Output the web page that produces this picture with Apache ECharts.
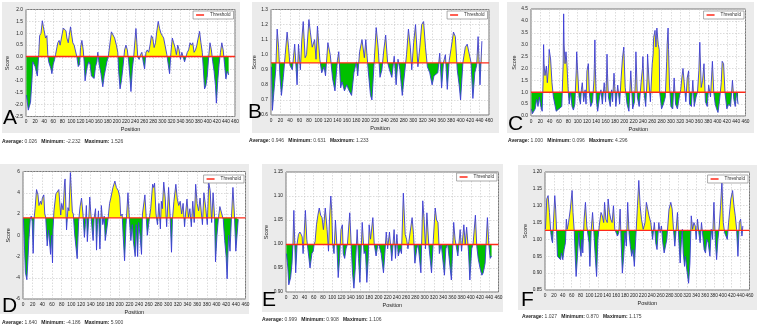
<!DOCTYPE html>
<html>
<head>
<meta charset="utf-8">
<script src="https://cdn.jsdelivr.net/npm/echarts@6/dist/echarts.min.js"></script>
<style>
html,body{margin:0;padding:0;background:#fff}
#chart{width:760px;height:333px}
</style>
</head>
<body>
<div id="chart"></div>
<script>
// residue position / score pairs
var scoresA = [[1,-1.6],[5,-2.232],[10,-1.9],[13,-1.0],[15,-0.2],[20,-0.4],[25,-0.8],[28,0.1],[30,0.9],[33,1.0],[36,1.526],[38,1.3],[40,1.1],[43,0.8],[46,0.9],[48,0.1],[50,-0.2],[55,-0.5],[57,-0.7],[60,-0.3],[63,-0.1],[65,0.1],[70,0.6],[73,0.7],[75,0.5],[78,0.8],[82,1.22],[85,1.2],[88,1.1],[90,0.8],[93,0.6],[95,0.9],[98,1.27],[100,1.0],[103,0.6],[106,0.5],[110,0.5],[112,0.0],[115,-0.4],[118,-0.3],[120,0.4],[123,0.7],[126,0.3],[128,-0.2],[130,-1.0],[133,-0.6],[135,-0.4],[138,-0.2],[141,-0.3],[144,-0.8],[147,-0.85],[150,-0.9],[153,-0.4],[156,-0.2],[158,0.2],[161,-0.3],[165,-0.7],[169,-1.25],[172,-0.8],[175,-0.5],[178,-0.2],[181,0.0],[185,0.6],[188,1.06],[192,1.0],[195,0.8],[199,0.5],[202,0.2],[204,-0.6],[207,-1.34],[210,-1.0],[213,-0.5],[217,0.3],[220,0.5],[223,0.3],[226,-0.2],[229,-0.9],[231,-1.45],[234,-0.5],[237,0.0],[239,0.5],[242,1.2],[244,0.6],[246,0.0],[249,-0.1],[252,0.1],[255,0.2],[258,-0.2],[261,-0.5],[264,0.2],[267,0.3],[270,0.2],[273,0.5],[276,0.9],[279,0.8],[282,0.4],[285,0.6],[288,1.1],[291,1.5],[294,1.2],[297,1.0],[300,0.9],[303,0.8],[306,0.5],[310,0.1],[313,-0.3],[316,-0.7],[319,0.2],[322,0.8],[325,0.6],[328,0.4],[331,0.1],[334,0.5],[337,0.3],[340,-0.1],[343,0.2],[346,0.0],[349,-0.2],[352,-0.2],[355,0.2],[358,0.3],[361,0.6],[364,0.5],[367,0.6],[370,0.2],[373,0.3],[376,0.5],[379,0.8],[382,1.08],[385,0.6],[388,0.2],[390,-0.4],[393,-1.34],[396,-1.2],[399,-0.8],[402,0.0],[405,0.6],[408,0.3],[411,-0.2],[414,-0.6],[417,-1.2],[419,-1.94],[422,-1.0],[425,-0.3],[428,0.2],[431,0.6],[434,0.3],[437,-0.3],[440,-0.92],[443,-0.6],[446,-0.75]];

var scoresB = [[1,0.92],[3,0.631],[6,0.75],[10,0.9],[13,1.17],[16,1.05],[19,0.85],[22,0.73],[26,0.85],[30,1.0],[34,1.15],[37,1.05],[40,0.93],[45,0.9],[50,1.07],[55,0.8],[58,1.07],[62,0.9],[65,1.1],[68,1.22],[72,0.98],[75,1.0],[80,1.233],[83,1.15],[87,1.05],[92,1.1],[95,0.97],[98,1.19],[103,0.97],[107,0.88],[112,0.92],[115,0.86],[120,1.08],[125,1.0],[130,0.84],[135,0.76],[140,0.96],[143,1.02],[147,0.78],[150,0.82],[155,0.76],[160,0.8],[165,0.76],[170,0.73],[175,0.88],[180,0.95],[183,0.86],[187,1.02],[192,1.1],[197,0.98],[200,1.1],[205,0.9],[210,0.73],[213,0.7],[218,0.97],[222,1.18],[226,1.05],[230,0.85],[234,0.9],[238,1.03],[242,1.13],[246,0.95],[250,0.9],[255,0.85],[260,0.99],[264,0.8],[268,0.97],[272,0.9],[277,0.73],[282,0.88],[286,1.0],[290,1.17],[294,1.05],[297,0.9],[301,1.08],[305,1.2],[310,0.92],[314,1.05],[318,1.2],[322,1.22],[326,1.05],[330,0.92],[335,0.88],[340,0.8],[344,0.86],[348,0.85],[352,0.88],[356,1.01],[360,0.78],[364,0.95],[368,1.0],[372,0.77],[376,0.96],[380,1.04],[385,1.15],[389,1.12],[393,0.9],[397,0.8],[400,0.7],[405,0.95],[410,1.05],[414,1.07],[418,1.06],[422,0.95],[426,0.71],[430,0.88],[434,0.93],[437,1.12],[441,0.8],[445,1.09]];

var scoresC = [[1,0.3],[3,0.096],[6,0.15],[9,0.3],[12,0.7],[15,0.4],[18,0.8],[21,0.4],[24,0.2],[26,1.5],[27,3.0],[28,2.2],[30,1.7],[33,2.1],[35,1.4],[38,2.2],[39,2.8],[42,2.4],[45,1.4],[48,0.8],[51,0.5],[54,0.2],[57,0.25],[60,0.3],[63,0.35],[66,0.4],[68,1.6],[69,2.2],[70,4.296],[71,3.0],[73,2.2],[75,2.7],[77,2.2],[78,1.8],[80,1.0],[82,0.5],[85,1.0],[88,0.4],[91,0.25],[94,0.5],[97,1.9],[98,2.7],[100,1.9],[103,0.8],[106,0.5],[108,1.1],[110,1.4],[113,0.6],[116,1.1],[118,0.5],[120,1.9],[123,2.2],[125,1.0],[128,0.4],[132,0.6],[135,1.5],[136,2.2],[137,3.2],[138,2.0],[140,0.7],[143,0.2],[147,0.8],[150,1.1],[153,0.5],[157,1.4],[160,0.6],[162,1.6],[163,2.6],[164,1.8],[166,0.8],[170,0.4],[173,1.1],[175,0.6],[178,1.8],[182,0.4],[186,1.3],[190,0.5],[193,1.5],[196,2.4],[199,2.9],[202,1.2],[206,0.5],[210,0.2],[214,1.9],[218,0.3],[222,0.6],[224,1.6],[225,2.7],[227,1.5],[228,0.8],[232,0.4],[236,1.4],[239,2.0],[240,2.5],[243,0.9],[246,0.4],[249,1.6],[250,2.6],[253,1.5],[256,0.6],[260,2.2],[262,2.6],[263,3.3],[265,3.5],[266,3.6],[267,3.2],[268,2.9],[269,3.4],[270,3.7],[272,3.2],[273,3.0],[275,2.8],[276,1.0],[280,0.3],[284,0.5],[288,0.8],[291,2.3],[292,3.0],[294,3.7],[295,2.8],[297,1.3],[300,0.4],[304,0.3],[307,1.6],[310,0.5],[314,0.3],[318,0.8],[321,1.1],[324,1.7],[326,2.0],[329,1.3],[332,0.6],[335,1.6],[338,1.9],[340,0.5],[344,0.4],[347,1.5],[350,0.4],[354,0.8],[357,1.0],[360,1.9],[362,3.1],[365,1.2],[368,1.5],[371,2.2],[374,0.6],[378,0.4],[381,1.3],[385,0.8],[389,2.3],[392,1.0],[395,0.5],[398,0.3],[401,0.15],[404,0.6],[408,1.4],[410,2.3],[413,2.2],[416,1.0],[420,0.3],[424,0.5],[428,0.4],[432,1.5],[435,0.7],[438,0.4],[441,1.0],[444,0.5]];

var scoresD = [[1,1.6],[3,-1.0],[5,-3.5],[8,-4.186],[10,-2.5],[12,-0.5],[15,1.5],[17,1.8],[19,1.3],[21,-1.7],[23,1.6],[25,2.5],[28,4.3],[31,3.8],[33,2.8],[36,3.2],[38,2.9],[40,3.5],[43,3.8],[45,2.0],[47,1.7],[50,-1.0],[53,0.5],[57,-1.8],[59,0.0],[61,-2.6],[62,0.5],[64,2.3],[68,3.9],[71,4.0],[74,4.3],[78,1.9],[80,3.0],[83,2.4],[86,5.0],[87,5.3],[90,0.5],[93,2.6],[95,2.3],[98,5.9],[100,4.0],[102,2.2],[104,2.0],[107,0.0],[112,-2.2],[115,1.3],[118,2.7],[121,3.5],[124,2.0],[127,-0.2],[129,1.0],[131,2.8],[133,-0.6],[136,1.6],[138,3.6],[140,2.2],[143,0.5],[145,-0.5],[147,1.6],[150,2.5],[152,-1.4],[154,1.0],[156,2.3],[159,-1.3],[162,2.8],[165,1.0],[168,1.8],[170,-0.5],[173,0.5],[176,1.6],[179,3.0],[182,3.6],[186,4.5],[190,5.1],[193,4.5],[197,4.2],[200,3.6],[202,1.8],[205,2.0],[207,0.0],[210,-2.4],[213,1.0],[217,4.0],[220,1.5],[223,-0.5],[226,1.0],[228,-0.5],[232,-2.0],[234,1.0],[237,-2.0],[239,1.2],[242,0.0],[245,-1.8],[247,2.0],[252,3.8],[255,1.5],[257,0.0],[261,1.5],[264,2.5],[268,4.8],[270,4.5],[272,4.9],[275,2.0],[278,1.0],[281,3.0],[284,0.6],[286,3.2],[288,2.5],[291,5.0],[294,3.5],[297,0.8],[301,4.5],[304,2.0],[307,-1.6],[309,1.5],[312,3.2],[316,4.8],[319,3.4],[322,2.8],[325,3.2],[328,2.0],[331,3.0],[334,0.8],[336,2.0],[339,3.4],[342,1.7],[345,2.5],[348,0.8],[351,3.2],[354,1.2],[357,4.8],[360,3.0],[363,2.3],[366,3.5],[369,2.0],[371,1.0],[374,4.0],[378,2.5],[381,1.0],[384,5.0],[387,4.2],[390,1.2],[393,4.0],[396,1.8],[398,-2.5],[401,0.0],[404,1.6],[407,2.7],[411,2.8],[414,1.5],[417,-0.5],[420,-2.0],[422,-4.1],[425,0.0],[428,-1.5],[431,1.7],[434,4.5],[437,2.0],[440,-1.5],[443,-1.6],[445,1.5]];

var scoresE = [[1,0.98],[4,0.95],[6,0.915],[10,0.93],[13,0.96],[15,1.0],[17,1.07],[19,1.0],[21,0.94],[24,1.0],[27,1.02],[30,1.025],[33,1.02],[35,1.015],[37,0.98],[42,1.07],[45,1.01],[48,1.01],[52,0.95],[56,0.98],[59,0.985],[61,1.0],[63,1.005],[66,1.04],[69,1.06],[72,1.075],[75,1.06],[78,1.055],[81,1.03],[85,1.075],[89,1.03],[92,0.985],[94,1.05],[97,1.1],[99,1.07],[101,1.0],[104,0.98],[107,1.05],[110,1.0],[113,0.93],[116,0.97],[119,1.03],[122,1.04],[124,0.98],[127,0.97],[130,0.99],[133,1.0],[138,1.065],[141,1.0],[144,0.94],[147,0.908],[150,0.95],[154,1.03],[157,0.97],[160,0.92],[162,0.97],[165,1.045],[169,0.98],[172,0.985],[175,0.92],[178,0.97],[180,1.04],[183,1.01],[188,1.055],[191,1.0],[195,0.975],[199,1.0],[202,0.995],[206,0.98],[211,0.94],[214,0.98],[217,1.025],[220,0.99],[224,1.025],[229,0.965],[234,1.03],[237,0.97],[240,1.02],[243,0.975],[247,0.99],[250,0.98],[254,1.106],[258,1.02],[261,1.01],[264,0.99],[266,1.005],[273,1.055],[276,1.02],[279,0.96],[283,0.99],[286,1.0],[292,0.94],[296,1.09],[299,1.05],[302,0.99],[305,1.065],[309,1.0],[315,0.94],[319,1.01],[323,1.075],[326,1.05],[329,1.045],[332,0.98],[336,1.0],[343,0.935],[346,0.99],[350,1.0],[358,0.925],[363,1.045],[366,1.01],[372,0.975],[377,1.03],[380,0.985],[385,1.04],[388,1.0],[391,1.035],[395,0.985],[398,0.925],[402,0.99],[405,1.0],[410,1.06],[413,0.995],[416,0.97],[420,0.95],[424,0.935],[427,0.94],[431,0.96],[436,1.055],[439,1.0],[442,0.97],[445,0.975]];

var scoresF = [[1,1.03],[4,1.12],[7,1.13],[10,1.08],[13,1.02],[15,1.0],[17,0.99],[19,1.05],[22,1.13],[24,1.09],[26,1.03],[28,0.95],[31,0.95],[35,0.94],[37,0.96],[40,0.94],[43,0.97],[46,0.99],[48,1.06],[50,1.03],[53,1.05],[57,1.09],[61,1.145],[63,1.08],[66,1.02],[68,0.95],[70,0.89],[73,0.95],[76,1.02],[78,0.98],[81,0.95],[83,1.0],[85,0.96],[88,1.06],[91,1.11],[94,1.04],[97,1.04],[99,0.99],[101,0.92],[104,1.03],[107,1.08],[110,1.02],[113,0.95],[116,0.89],[119,1.0],[122,1.04],[126,1.08],[129,1.07],[132,1.05],[134,1.11],[137,1.06],[140,1.05],[142,1.12],[145,1.08],[148,1.06],[151,1.05],[154,1.1],[157,1.03],[160,1.03],[163,1.01],[166,1.02],[169,1.09],[171,1.0],[174,0.9],[177,0.95],[180,1.02],[183,0.98],[186,1.11],[189,1.02],[192,0.98],[195,0.95],[198,0.97],[201,0.92],[204,1.0],[208,1.1],[211,1.175],[214,1.1],[217,1.06],[221,1.03],[225,1.05],[228,1.11],[231,1.09],[234,1.07],[238,1.05],[242,1.0],[246,1.05],[249,0.99],[252,0.97],[256,1.05],[259,1.02],[262,1.04],[265,0.99],[268,0.96],[271,0.96],[274,1.0],[279,1.09],[283,1.11],[286,1.09],[289,1.03],[292,0.98],[295,1.03],[298,1.08],[301,1.0],[304,0.93],[307,1.0],[309,1.03],[311,0.96],[314,0.92],[316,0.95],[319,0.91],[323,0.87],[326,0.93],[329,1.07],[332,1.03],[335,1.05],[338,1.04],[340,1.0],[343,1.06],[346,1.02],[349,0.99],[352,1.05],[355,1.01],[358,0.97],[361,0.96],[364,1.0],[367,0.99],[371,0.95],[374,1.03],[377,1.0],[380,1.11],[383,1.0],[386,0.94],[389,1.0],[392,1.04],[395,1.1],[398,1.175],[401,1.05],[404,1.02],[407,1.01],[410,1.0],[413,1.05],[418,1.12],[422,1.145],[425,1.1],[428,1.07],[431,1.03],[434,0.95],[437,1.05],[440,1.06],[443,1.01],[445,1.04]];

var letters = ['A', 'B', 'C', 'D', 'E', 'F'];
var thresholds = [0.026, 0.946, 1.000, 1.640, 0.999, 1.027];
var averages = ['0.026', '0.946', '1.000', '1.640', '0.999', '1.027'];
var minimums = ['-2.232', '0.631', '0.096', '-4.186', '0.908', '0.870'];
var maximums = ['1.526', '1.233', '4.296', '5.900', '1.106', '1.175'];
// y axis [min, max, interval, decimals]
var yScales = [[-2.5, 2.0, 0.5, 1], [0.6, 1.3, 0.1, 1], [0, 4.5, 0.5, 1], [-6, 6, 2, 0], [0.90, 1.15, 0.05, 2], [0.85, 1.20, 0.05, 2]];
var xScale = [0, 460, 20];

var allScores = [scoresA, scoresB, scoresC, scoresD, scoresE, scoresF];

// panel layout: plot rect, grey box, letter centre, stats text start
var layout = [
    {plot: [26, 9.5, 209, 107], box: [2, 2, 238, 131], letter: [3, 118], stats: [2, 142], legendTop: 11},
    {plot: [271, 9.5, 218, 105.5], box: [252, 2, 247, 131], letter: [248, 112], stats: [249, 141], legendTop: 11},
    {plot: [531, 9, 214.5, 107], box: [507, 2, 247, 131], letter: [508, 124], stats: [508, 141], legendTop: 11},
    {plot: [23, 171.5, 222.5, 127.5], box: [0, 164, 249, 150], letter: [2, 306.5], stats: [2, 323], legendTop: 175},
    {plot: [286, 172, 212.5, 120], box: [262, 164, 241, 148], letter: [262, 300], stats: [262, 320], legendTop: 173},
    {plot: [545, 172, 204.5, 118], box: [518, 165, 239, 145], letter: [521, 300.5], stats: [522, 317], legendTop: 175}
];

var FONT = '"Liberation Sans", Arial, sans-serif';
var chart = echarts.init(document.getElementById('chart'), null, {renderer: 'canvas'});

var grids = [], xAxes = [], yAxes = [], series = [], legends = [], graphics = [];

layout.forEach(function (L, i) {
    var data = allScores[i];
    var th = thresholds[i];
    var ys = yScales[i];
    // hard colour stop at the threshold: yellow above, green below
    var vals = data.map(function (d) { return d[1]; });
    var vmax = Math.max.apply(null, vals.concat([th]));
    var vmin = Math.min.apply(null, vals.concat([th]));
    var cut = (vmax - th) / (vmax - vmin);

    grids.push({
        left: L.plot[0], top: L.plot[1], width: L.plot[2], height: L.plot[3],
        show: true, backgroundColor: '#fff', borderColor: '#777', borderWidth: 1
    });
    xAxes.push({
        type: 'value', gridIndex: i, min: xScale[0], max: xScale[1], interval: xScale[2],
        name: 'Position', nameLocation: 'middle', nameGap: 10,
        nameTextStyle: {fontSize: 5.5, color: '#222', fontFamily: FONT},
        axisLine: {show: false}, axisTick: {show: false},
        axisLabel: {fontSize: 4.8, color: '#222', margin: 3, fontFamily: FONT},
        splitLine: {show: true, lineStyle: {color: '#c4c4c4', width: 0.6, type: [1.5, 1.5]}}
    });
    yAxes.push({
        type: 'value', gridIndex: i, min: ys[0], max: ys[1], interval: ys[2],
        name: 'Score', nameLocation: 'middle', nameGap: ys[3] === 0 ? 11 : (ys[3] === 2 ? 15 : 13),
        nameTextStyle: {fontSize: 5.5, color: '#222', fontFamily: FONT},
        axisLine: {show: false}, axisTick: {show: false},
        axisLabel: {fontSize: 4.8, color: '#222', margin: 3, fontFamily: FONT,
            formatter: (function (dec) { return function (v) { return v.toFixed(dec); }; })(ys[3])},
        splitLine: {show: true, lineStyle: {color: '#c4c4c4', width: 0.6, type: [1.5, 1.5]}}
    });
    series.push({
        name: 'Score ' + letters[i], type: 'line', xAxisIndex: i, yAxisIndex: i,
        data: data, showSymbol: false, symbol: 'none', animation: false,
        lineStyle: {color: '#3a3ad8', width: 0.9},
        areaStyle: {
            origin: th, opacity: 1,
            color: {
                type: 'linear', x: 0, y: 0, x2: 0, y2: 1,
                colorStops: [
                    {offset: 0, color: '#ffff00'}, {offset: cut, color: '#ffff00'},
                    {offset: cut, color: '#00c000'}, {offset: 1, color: '#00c000'}
                ]
            }
        },
        z: 2
    });
    series.push({
        name: 'Threshold', type: 'line', xAxisIndex: i, yAxisIndex: i,
        data: [[xScale[0], th], [xScale[1], th]], symbol: 'none', animation: false,
        lineStyle: {color: '#ff2a1a', width: 1.4}, itemStyle: {color: '#ff2a1a'}, z: 3
    });
    legends.push({
        data: ['Threshold'], right: 760 - (L.plot[0] + L.plot[2]) + 1.5, top: L.legendTop,
        orient: 'horizontal', icon: 'rect', itemWidth: 8, itemHeight: 1.5, itemGap: 2,
        padding: [1.5, 3, 1.5, 3], backgroundColor: '#fff', borderColor: '#888', borderWidth: 0.7,
        textStyle: {fontSize: 4.6, color: '#333', fontFamily: FONT, padding: [0, 0, 0, 1]},
        selectedMode: false
    });

    graphics.push({
        type: 'rect', z: -10, silent: true,
        shape: {x: L.box[0], y: L.box[1], width: L.box[2], height: L.box[3]},
        style: {fill: '#ebebeb'}
    });
    graphics.push({
        type: 'text', z: 50, silent: true, x: L.letter[0], y: L.letter[1],
        style: {text: letters[i], font: '21px ' + FONT, fill: '#000', verticalAlign: 'middle'}
    });
    graphics.push({
        type: 'text', z: 50, silent: true, x: L.stats[0], y: L.stats[1],
        style: {
            text: '{b|Average:} ' + averages[i] + '   {b|Minimum:} ' + minimums[i] + '   {b|Maximum:} ' + maximums[i],
            font: '5px ' + FONT, fill: '#444', verticalAlign: 'middle',
            rich: {b: {fontWeight: 'bold', fontSize: 5, fill: '#222', fontFamily: FONT}}
        }
    });
});

chart.setOption({
    animation: false,
    backgroundColor: '#fff',
    grid: grids,
    xAxis: xAxes,
    yAxis: yAxes,
    legend: legends,
    series: series,
    graphic: {elements: graphics}
});
</script>
</body>
</html>
